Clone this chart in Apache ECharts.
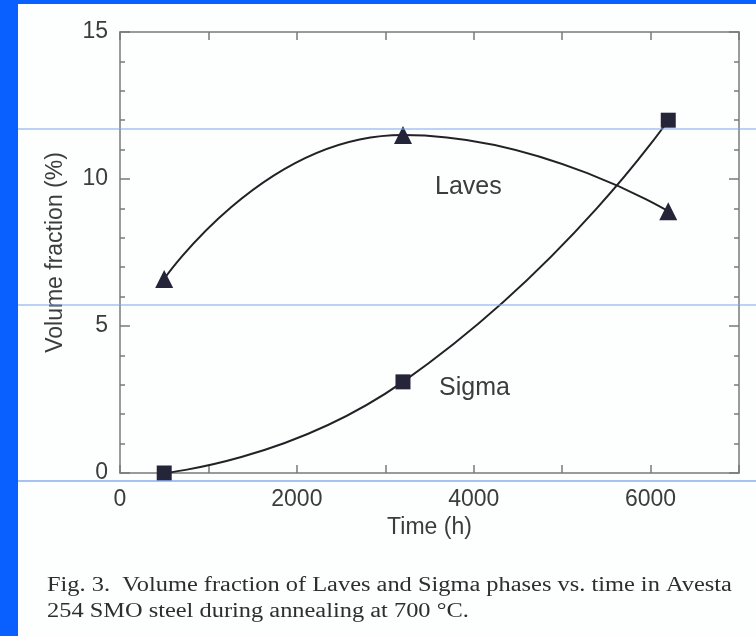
<!DOCTYPE html>
<html>
<head>
<meta charset="utf-8">
<script src="https://cdn.jsdelivr.net/npm/echarts@6/dist/echarts.min.js"></script>
<style>
  html, body { margin: 0; padding: 0; background: #fdfefe; }
  #chart { width: 756px; height: 636px; }
</style>
</head>
<body>
<div id="chart"></div>
<script>
// Annealing time (h) of the measured samples
const timeHours = [500, 3200, 6200];
// Volume fraction (%) of each phase at those times
const lavesFraction = [6.6, 11.5, 8.9];
const sigmaFraction = [0.0, 3.1, 12.0];
// Axis tick labels
const xTickLabels = ['0', '2000', '4000', '6000'];
const yTickLabels = ['0', '5', '10', '15'];

const ink = '#222226';
const axisGray = '#7a7a7a';
const textGray = '#3c3c3c';
const sans = '"Liberation Sans", Arial, sans-serif';
const serif = '"Liberation Serif", "Times New Roman", serif';

const chart = echarts.init(document.getElementById('chart'));

const axisLine = { show: true, onZero: false, lineStyle: { color: axisGray, width: 1.5 } };

const baseX = {
  type: 'value', min: 0, max: 7000, interval: 1000,
  splitLine: { show: false },
  axisLine: axisLine,
  axisTick: { show: true, inside: true, length: 8, lineStyle: { color: axisGray, width: 1.5 } }
};
const baseY = {
  type: 'value', min: 0, max: 15, interval: 5,
  splitLine: { show: false },
  axisLine: axisLine,
  axisTick: { show: true, inside: true, length: 10, lineStyle: { color: axisGray, width: 1.5 } },
  minorTick: { show: true, splitNumber: 5, length: 5, lineStyle: { color: axisGray, width: 1.5 } }
};

const series = (name, ys, symbol, size) => ({
  name, type: 'line', smooth: 0.55,
  data: timeHours.map((t, i) => [t, ys[i]]),
  symbol, symbolSize: size,
  showAllSymbol: true,
  lineStyle: { color: ink, width: 2 },
  itemStyle: { color: '#25253a', borderWidth: 0 },
  z: 3
});

chart.setOption({
  animation: false,
  backgroundColor: '#fdfefe',
  grid: { left: 120, top: 32, right: 17, bottom: 163, containLabel: false },
  xAxis: [
    Object.assign({}, baseX, {
      position: 'bottom',
      name: 'Time (h)', nameLocation: 'middle', nameGap: 42,
      nameTextStyle: { fontFamily: sans, fontSize: 23, color: textGray },
      axisLabel: {
        margin: 15, fontFamily: sans, fontSize: 23, color: textGray,
        formatter: v => xTickLabels.includes(String(v)) ? String(v) : ''
      }
    }),
    Object.assign({}, baseX, { position: 'top', axisLabel: { show: false } })
  ],
  yAxis: [
    Object.assign({}, baseY, {
      position: 'left',
      name: 'Volume fraction (%)', nameLocation: 'middle', nameGap: 53, nameRotate: 90,
      nameTextStyle: { fontFamily: sans, fontSize: 23, color: textGray },
      axisLabel: {
        margin: 12, fontFamily: sans, fontSize: 23, color: textGray,
        formatter: v => yTickLabels.includes(String(v)) ? String(v) : ''
      }
    }),
    Object.assign({}, baseY, { position: 'right', axisLabel: { show: false } })
  ],
  series: [
    series('Laves', lavesFraction, 'triangle', 18),
    series('Sigma', sigmaFraction, 'rect', 15)
  ],
  graphic: [
    // slide frame
    { type: 'rect', left: 0, top: 0, shape: { width: 18, height: 636 }, style: { fill: '#0a60ff' }, z: 10 },
    { type: 'rect', left: 0, top: 0, shape: { width: 756, height: 4 }, style: { fill: '#0a60ff' }, z: 10 },
    // guide rules across the slide
    { type: 'line', shape: { x1: 18, y1: 129, x2: 756, y2: 129 }, style: { stroke: '#7aa6ec', lineWidth: 1 }, z: 10 },
    { type: 'line', shape: { x1: 18, y1: 305, x2: 756, y2: 305 }, style: { stroke: '#7aa6ec', lineWidth: 1 }, z: 10 },
    { type: 'line', shape: { x1: 18, y1: 481, x2: 756, y2: 481 }, style: { stroke: '#4f86e6', lineWidth: 1.2 }, z: 10 },
    // curve labels
    { type: 'text', left: 435, top: 175, style: { text: 'Laves', font: '25px ' + sans, fill: textGray }, z: 5 },
    { type: 'text', left: 439, top: 376, style: { text: 'Sigma', font: '25px ' + sans, fill: textGray }, z: 5 },
    // figure caption
    { type: 'text', x: 47, y: 573, scaleX: 1.22, style: {
        text: 'Fig. 3.  Volume fraction of Laves and Sigma phases vs. time in Avesta\n254 SMO steel during annealing at 700 °C.',
        font: '20px ' + serif, fill: '#2e2e2e', lineHeight: 26 } }
  ]
});
</script>
</body>
</html>
